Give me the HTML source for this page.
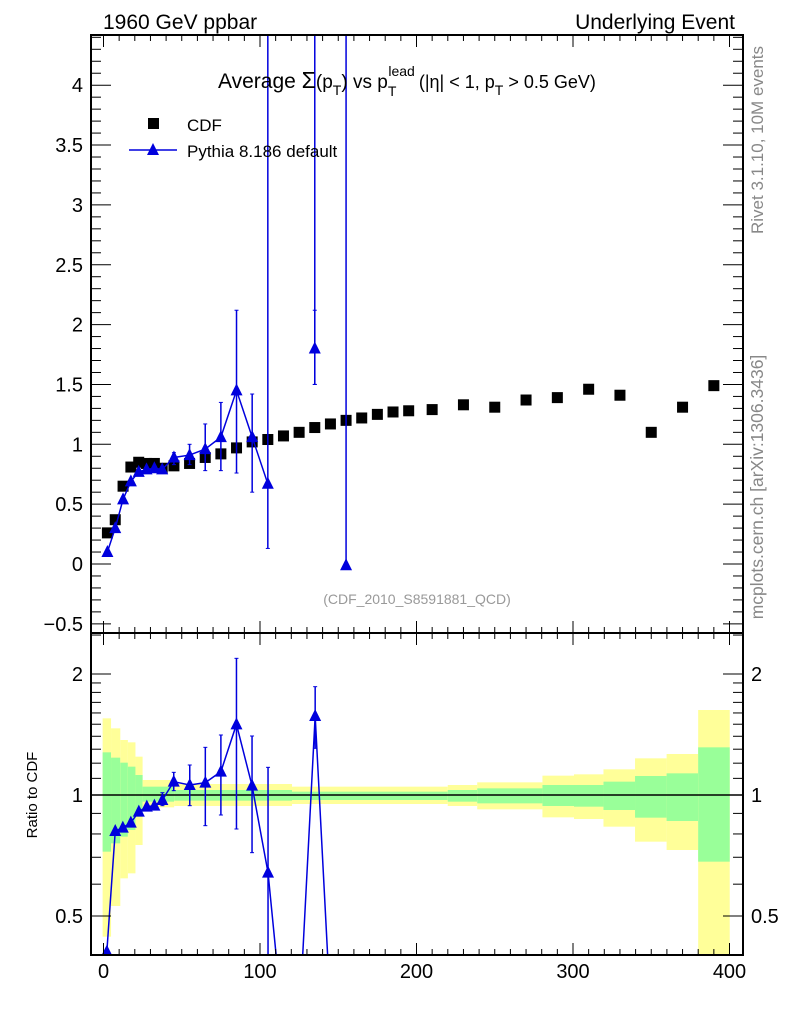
<!DOCTYPE html>
<html><head><meta charset="utf-8"><style>
html,body{margin:0;padding:0;background:#fff;}
svg{display:block;font-family:"Liberation Sans",sans-serif;}
</style></head><body>
<svg id="s" width="786" height="1024" xmlns="http://www.w3.org/2000/svg"></svg>
<script>
const s=document.getElementById('s');let h='';
const L=91,R=743,T=35,M=633,B=955;
const X=v=>103.5+v*1.565;
const Y=v=>564-119.7*v;
const RY=r=>795-121*Math.log2(r);
const bins=[[30,50,265,920,367,665],[50,72,295,828,383,640],[72,90,330,745,398,620],[90,108,337,730,410,600],[108,125,380,645,435,560],[125,200,450,532,470,515],[200,480,462,528,480,512],[480,850,470,522,485,510],[850,920,465,528,480,515],[920,1075,457,538,475,520],[1075,1150,437,562,465,528],[1150,1220,433,567,465,530],[1220,1295,418,590,455,540],[1295,1370,385,635,438,563],[1370,1445,372,660,430,573],[1445,1520,240,975,352,695]];
const zx=x=>90+x/2.376, zy=y=>630+y/3;
for(const b of bins){
 h+=`<rect x="${zx(b[0])}" y="${zy(b[2])}" width="${zx(b[1])-zx(b[0])}" height="${zy(b[3])-zy(b[2])}" fill="#ffff99"/>`;
 h+=`<rect x="${zx(b[0])}" y="${zy(b[4])}" width="${zx(b[1])-zx(b[0])}" height="${zy(b[5])-zy(b[4])}" fill="#99ff99"/>`;
}
h+=`<line x1="${L}" x2="${R}" y1="795" y2="795" stroke="#000" stroke-width="1.5"/>`;
h+=`<clipPath id="rc"><rect x="${L}" y="${M}" width="${R-L}" height="${B-M}"/></clipPath><g clip-path="url(#rc)">`;
const rp=[[40,965],[60,603],[78,593],[97,578],[116,545],[135,530],[153,527],[172,510],[199,455],[237,465],[274,458],[311,425],[348,283],[385,467],[423,728],[443,985]];
h+=`<polyline fill="none" stroke="#0000dd" stroke-width="1.5" points="${rp.map(p=>zx(p[0])+','+zy(p[1])).join(' ')}"/>`;
h+=`<polyline fill="none" stroke="#0000dd" stroke-width="1.5" points="${zx(505)},${zy(985)} ${zx(535)},${zy(258)} ${zx(565)},${zy(985)}"/>`;
const re=[[172,488,527],[199,427,482],[237,405,527],[274,352,587],[311,315,555],[348,85,597],[385,318,668],[423,412,985],[535,170,355]];
for(const e of re){const x=zx(e[0]),a=zy(e[1]),c=zy(e[2]);
 h+=`<line x1="${x}" x2="${x}" y1="${a}" y2="${c}" stroke="#0000dd" stroke-width="1.5"/><line x1="${x-2}" x2="${x+2}" y1="${a}" y2="${a}" stroke="#0000dd"/><line x1="${x-2}" x2="${x+2}" y1="${c}" y2="${c}" stroke="#0000dd"/>`;}
const tri=(x,y)=>`<polygon points="${x-6},${y+5} ${x+6},${y+5} ${x},${y-7}" fill="#0000dd"/>`;
for(const p of rp.slice(0,15))h+=tri(zx(p[0]),zy(p[1]));
h+=tri(zx(535),zy(258));
h+='</g>';
h+=`<clipPath id="mc"><rect x="${L}" y="${T}" width="${R-L}" height="${M-T}"/></clipPath><g clip-path="url(#mc)">`;
const cdf=[[2.5,.26],[7.5,.37],[12.5,.65],[17.5,.81],[22.5,.85],[27.5,.84],[32.5,.84],[37.5,.80],[45,.82],[55,.84],[65,.89],[75,.92],[85,.97],[95,1.02],[105,1.04],[115,1.07],[125,1.10],[135,1.14],[145,1.17],[155,1.20],[165,1.22],[175,1.25],[185,1.27],[195,1.28],[210,1.29],[230,1.33],[250,1.31],[270,1.37],[290,1.39],[310,1.46],[330,1.41],[350,1.10],[370,1.31],[390,1.49]];
for(const p of cdf)h+=`<rect x="${X(p[0])-5.5}" y="${Y(p[1])-5.5}" width="11" height="11" fill="#000"/>`;
const py=[[2.5,.10],[7.5,.30],[12.5,.54],[17.5,.69],[22.5,.77],[27.5,.79],[32.5,.80],[37.5,.79],[45,.89],[55,.91],[65,.96],[75,1.06],[85,1.45],[95,1.06],[105,.67]];
h+=`<polyline fill="none" stroke="#0000dd" stroke-width="1.5" points="${py.map(p=>X(p[0])+','+Y(p[1])).join(' ')}"/>`;
const me=[[45,.83,.93],[55,.83,1.0],[65,.78,1.17],[75,.78,1.35],[85,.76,2.12],[95,.60,1.42],[105,.13,9],[135,1.5,2.12],[135,1.5,9],[155,-0.01,9]];
for(const e of me){const x=X(e[0]),a=Y(e[1]),c=Y(e[2]);
 h+=`<line x1="${x}" x2="${x}" y1="${a}" y2="${c}" stroke="#0000dd" stroke-width="1.5"/><line x1="${x-2}" x2="${x+2}" y1="${a}" y2="${a}" stroke="#0000dd"/><line x1="${x-2}" x2="${x+2}" y1="${c}" y2="${c}" stroke="#0000dd"/>`;}
for(const p of py)h+=tri(X(p[0]),Y(p[1]));
h+=tri(X(135),Y(1.8))+tri(X(155),Y(-0.01));
h+='</g>';
h+=`<rect x="${L}" y="${T}" width="${R-L}" height="${M-T}" fill="none" stroke="#000" stroke-width="2"/>`;
h+=`<rect x="${L}" y="${M}" width="${R-L}" height="${B-M}" fill="none" stroke="#000" stroke-width="2"/>`;
for(let v=0;v<=410;v+=10){const x=X(v);if(x>R)break;const big=v%100==0,len=big?12:6;
 for(const [y0,d] of [[T,1],[M,-1],[M,1],[B,-1]])h+=`<line x1="${x}" x2="${x}" y1="${y0}" y2="${y0+d*len}" stroke="#000"/>`;}
for(let v=0;v<=400;v+=100)h+=`<text x="${X(v)}" y="978" font-size="20" text-anchor="middle">${v}</text>`;
for(let i=-5;i<=44;i++){const v=i/10,y=Y(v);if(y<T||y>M)continue;const big=i%5==0,len=big?20:10;
 h+=`<line x1="${L}" x2="${L+len}" y1="${y}" y2="${y}" stroke="#000"/><line x1="${R}" x2="${R-len}" y1="${y}" y2="${y}" stroke="#000"/>`;
 if(big)h+=`<text x="83" y="${y+7}" font-size="20" text-anchor="end">${v<0?'\u2212'+(-v):v}</text>`;}
const rt=[0.4,0.5,0.6,0.7,0.8,0.9,1,1.1,1.2,1.3,1.4,1.5,1.6,1.7,1.8,1.9,2,2.5];
for(const r of rt){const y=RY(r);if(y<M||y>B)continue;const big=(r==0.5||r==1||r==2),len=big?20:10;
 h+=`<line x1="${L}" x2="${L+len}" y1="${y}" y2="${y}" stroke="#000"/><line x1="${R}" x2="${R-len}" y1="${y}" y2="${y}" stroke="#000"/>`;
 if(big){h+=`<text x="83" y="${y+7}" font-size="20" text-anchor="end">${r}</text><text x="751" y="${y+7}" font-size="20">${r}</text>`;}}
h+=`<text transform="translate(37,795) rotate(-90)" font-size="15" text-anchor="middle">Ratio to CDF</text>`;
h+=`<text x="103" y="29" font-size="21">1960 GeV ppbar</text><text x="735" y="29" font-size="21" text-anchor="end">Underlying Event</text>`;
h+=`<text x="218" y="88" font-size="21">Average <tspan font-size="23">Σ</tspan><tspan font-size="19">(p</tspan><tspan font-size="14" dy="7">T</tspan><tspan font-size="19" dy="-7">) vs p</tspan><tspan font-size="14" dy="8">T</tspan><tspan font-size="14" dy="-20" dx="-8">lead</tspan><tspan font-size="18" dy="12" dx="4">(|η| &lt; 1, p</tspan><tspan font-size="14" dy="7">T</tspan><tspan font-size="18" dy="-7"> &gt; 0.5 GeV)</tspan></text>`;
h+=`<rect x="148" y="118" width="11" height="11" fill="#000"/><text x="187" y="131" font-size="17">CDF</text>`;
h+=`<line x1="129" x2="177" y1="150" y2="150" stroke="#0000dd" stroke-width="1.5"/>`+tri(153,150)+`<text x="187" y="157" font-size="17">Pythia 8.186 default</text>`;
h+=`<text x="417" y="604" font-size="14" fill="#999" text-anchor="middle">(CDF_2010_S8591881_QCD)</text>`;
h+=`<text transform="translate(763,140) rotate(-90)" font-size="17" fill="#888" text-anchor="middle">Rivet 3.1.10,  10M events</text>`;
h+=`<text transform="translate(763,487) rotate(-90)" font-size="17.5" fill="#888" text-anchor="middle">mcplots.cern.ch [arXiv:1306.3436]</text>`;
s.innerHTML=h;
</script>
</body></html>
